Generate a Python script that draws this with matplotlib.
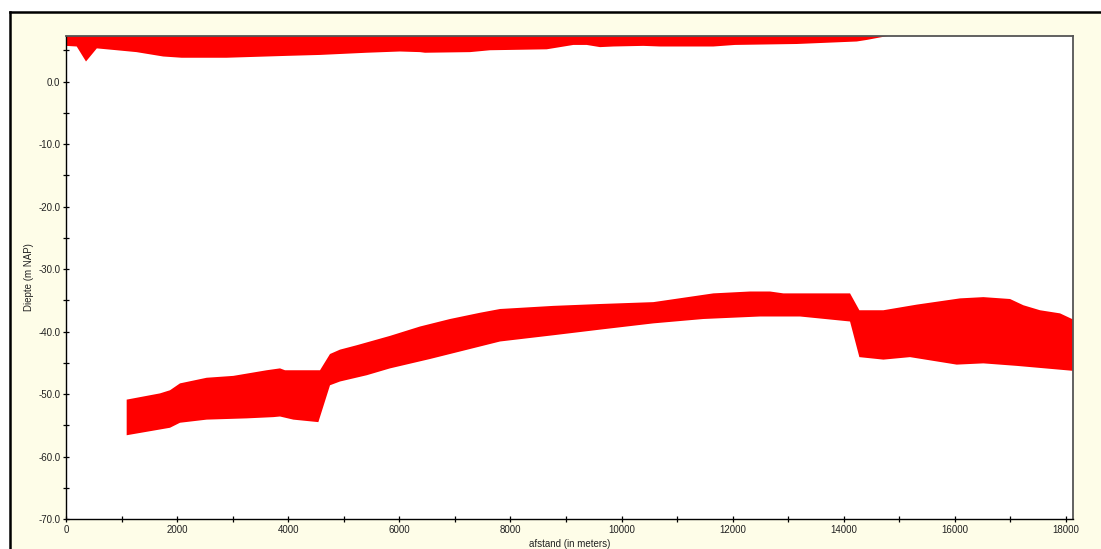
import matplotlib
matplotlib.use("Agg")
import matplotlib.pyplot as plt
from matplotlib.patches import Rectangle
from matplotlib.lines import Line2D
from matplotlib.ticker import MultipleLocator, FixedLocator

plt.rcParams['font.family'] = ['Liberation Sans', 'DejaVu Sans']

# Upper (surface) layer: lower boundary; upper boundary lies above the axis top
top_x = [0, 193, 360, 555, 915, 1270, 1750, 2080, 2890, 3970, 4570, 5410, 6010,
         6372, 6462, 7272, 7632, 8652, 8892, 9132, 9372, 9612, 9852, 10392,
         10692, 11652, 12042, 13152, 13692, 14232, 14412, 14742, 15000, 18130]
top_lower = [5.7, 5.6, 3.2, 5.3, 5.0, 4.7, 4.0, 3.8, 3.8, 4.1, 4.25, 4.6, 4.8,
             4.7, 4.6, 4.7, 5.0, 5.15, 5.5, 5.85, 5.85, 5.5, 5.6, 5.7,
             5.6, 5.6, 5.85, 6.0, 6.2, 6.4, 6.65, 7.2, 7.6, 7.6]
top_upper_level = 10.0

# Deep layer: upper boundary
deep_top_x = [1092, 1692, 1872, 2052, 2532, 3012, 3612, 3852, 3942, 4572, 4752,
              4932, 5232, 5832, 6372, 6912, 7452, 7812, 8772, 9612, 10572,
              11652, 12312, 12672, 12912, 14112, 14280, 14712, 15312, 16092,
              16512, 16992, 17232, 17532, 17892, 18132]
deep_top = [-50.9, -49.9, -49.4, -48.3, -47.4, -47.1, -46.2, -45.9, -46.2, -46.2,
            -43.6, -42.9, -42.2, -40.7, -39.2, -38.0, -37.0, -36.4, -35.9, -35.6,
            -35.3, -33.9, -33.6, -33.6, -33.9, -33.9, -36.6, -36.6, -35.7, -34.7,
            -34.5, -34.8, -35.8, -36.6, -37.1, -38.1]
# Deep layer: lower boundary
deep_bot_x = [1092, 1872, 2052, 2532, 3252, 3732, 3852, 4092, 4542, 4752, 4932,
              5412, 5832, 6552, 7092, 7812, 8772, 9612, 10572, 11472, 12492,
              13212, 14112, 14280, 14712, 15192, 16032, 16512, 17112, 18132]
deep_bot = [-56.6, -55.4, -54.6, -54.1, -53.9, -53.7, -53.6, -54.1, -54.5, -48.6,
            -48.0, -47.0, -45.9, -44.4, -43.2, -41.6, -40.6, -39.7, -38.7, -38.0,
            -37.6, -37.6, -38.4, -44.1, -44.5, -44.1, -45.3, -45.1, -45.5, -46.3]

x_major = list(range(0, 18001, 2000))
y_major = [0, -10, -20, -30, -40, -50, -60, -70]
y_labels = ["0.0", "-10.0", "-20.0", "-30.0", "-40.0", "-50.0", "-60.0", "-70.0"]

W, H = 1101, 549
fig = plt.figure(figsize=(W / 100, H / 100), dpi=100, facecolor='white')

# outer panel background (light yellow) with black frame on top and left
fx0, fy1 = 10 / W, 1 - 12 / H
fig.patches.append(Rectangle((fx0, 0), 1 - fx0, fy1, transform=fig.transFigure,
                             facecolor='#FEFDE8', edgecolor='none', zorder=-10))
fig.add_artist(Line2D([fx0, 1.0], [fy1, fy1], transform=fig.transFigure,
                      color='black', linewidth=1.8, solid_capstyle='projecting'))
fig.add_artist(Line2D([fx0, fx0], [0.0, fy1], transform=fig.transFigure,
                      color='black', linewidth=1.8, solid_capstyle='projecting'))

left, right, top, bottom = 66, 1073, 36, 519
ax = fig.add_axes([left / W, 1 - bottom / H, (right - left) / W, (bottom - top) / H])
ax.set_facecolor('white')

red = '#FF0000'
# surface layer polygon
px = top_x + top_x[::-1]
py = top_lower + [top_upper_level] * len(top_x)
ax.fill(px, py, color=red, linewidth=0)
# deep layer polygon
ax.fill(deep_top_x + deep_bot_x[::-1], deep_top + deep_bot[::-1], color=red, linewidth=0)

ax.set_xlim(0, 18125)
ax.set_ylim(-70, 7.28)

ax.xaxis.set_major_locator(FixedLocator(x_major))
ax.set_xticklabels([str(v) for v in x_major])
ax.xaxis.set_minor_locator(MultipleLocator(1000))
ax.yaxis.set_major_locator(FixedLocator(y_major))
ax.set_yticklabels(y_labels)
ax.yaxis.set_minor_locator(MultipleLocator(5))

ax.tick_params(which='both', direction='inout', length=5, width=0.9, color='black',
               labelsize=7, labelcolor='#222222', pad=1.5)
ax.tick_params(axis='x', which='both', pad=2)

for s in ['left', 'bottom']:
    ax.spines[s].set_color('black')
    ax.spines[s].set_linewidth(1.0)
for s in ['top', 'right']:
    ax.spines[s].set_color('#555555')
    ax.spines[s].set_linewidth(1.3)

ax.set_ylabel('Diepte (m NAP)', fontsize=7, color='#222222', labelpad=3)
ax.set_xlabel('afstand (in meters)', fontsize=7, color='#222222', labelpad=3)

fig.savefig('out.png', dpi=100, facecolor='white')
